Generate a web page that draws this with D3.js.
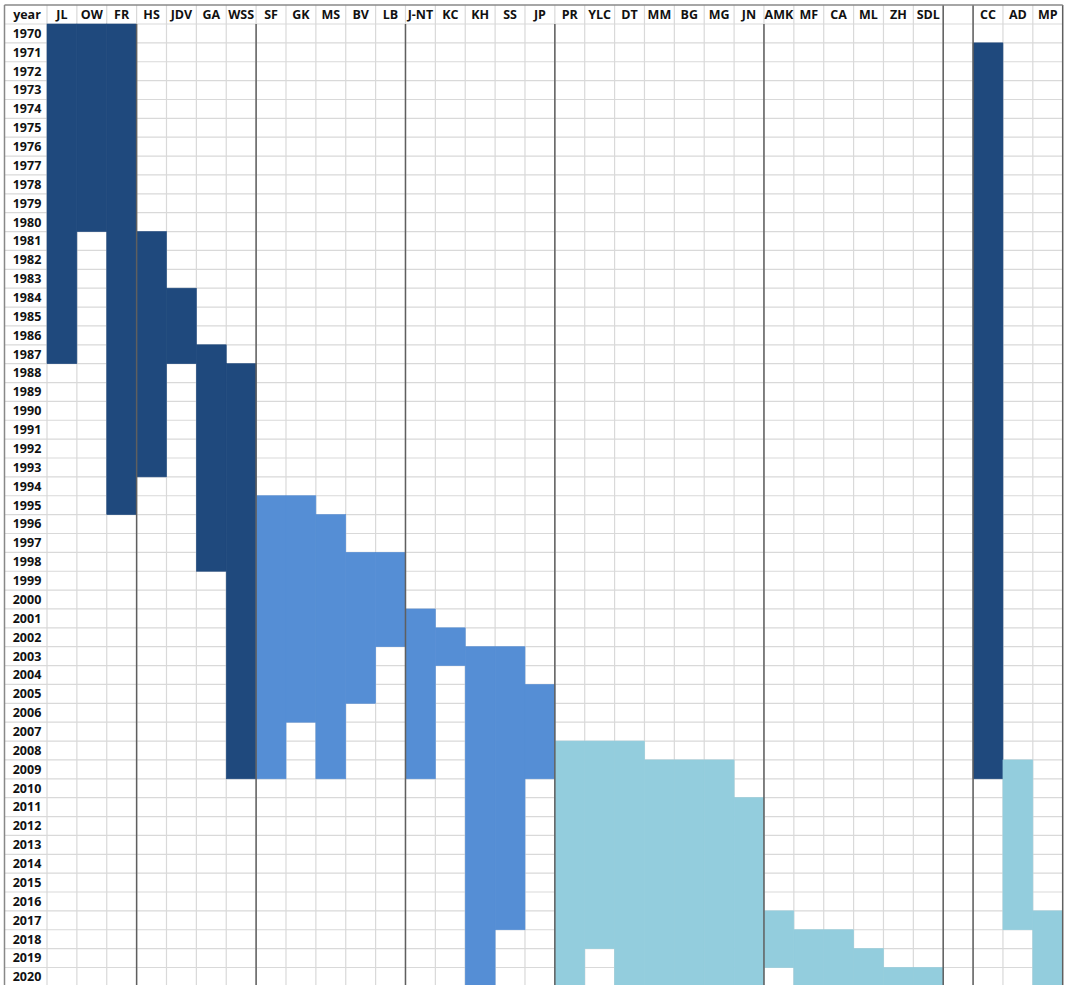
<!DOCTYPE html>
<html>
<head>
<meta charset="utf-8">
<script src="https://cdn.jsdelivr.net/npm/d3@7"></script>
<style>
  body { margin: 0; background: #fff; }
  text { font-family: "Open Sans", "Noto Sans", sans-serif; font-weight: 700; font-size: 12.5px; fill: #111; }
</style>
</head>
<body>
<div id="chart"></div>
<script>
const columns = ['JL', 'OW', 'FR', 'HS', 'JDV', 'GA', 'WSS', 'SF', 'GK', 'MS', 'BV', 'LB',
  'J-NT', 'KC', 'KH', 'SS', 'JP', 'PR', 'YLC', 'DT', 'MM', 'BG', 'MG', 'JN',
  'AMK', 'MF', 'CA', 'ML', 'ZH', 'SDL', '', 'CC', 'AD', 'MP'];
const years = d3.range(1970, 2021);

// [column, first year, last year]
const navySpans = [
  ['JL', 1970, 1987], ['OW', 1970, 1980], ['FR', 1970, 1995], ['HS', 1981, 1993],
  ['JDV', 1984, 1987], ['GA', 1987, 1998], ['WSS', 1988, 2009], ['CC', 1971, 2009]
];
const blueSpans = [
  ['SF', 1995, 2009], ['GK', 1995, 2006], ['MS', 1996, 2009], ['BV', 1998, 2005],
  ['LB', 1998, 2002], ['J-NT', 2001, 2009], ['KC', 2002, 2003], ['KH', 2003, 2020],
  ['SS', 2003, 2017], ['JP', 2005, 2009]
];
const aquaSpans = [
  ['PR', 2008, 2020], ['YLC', 2008, 2018], ['DT', 2008, 2020], ['MM', 2009, 2020],
  ['BG', 2009, 2020], ['MG', 2009, 2020], ['JN', 2011, 2020], ['AMK', 2017, 2019],
  ['MF', 2018, 2020], ['CA', 2018, 2020], ['ML', 2019, 2020], ['ZH', 2020, 2020],
  ['SDL', 2020, 2020], ['AD', 2009, 2017], ['MP', 2017, 2020]
];
// group separators: drawn on the right edge of these columns
const bodyBreaks = ['FR', 'WSS', 'LB', 'JP', 'JN'];
const fullBreaks = ['SDL', '', 'MP'];

const width = 1068;
const height = 985;
const tableLeft = 4.5;
const tableTop = 5;
const headerH = 19;
const rowH = 18.87;

const svg = d3.select('#chart')
  .append('svg')
  .attr('width', width)
  .attr('height', height);

const x = d3.scaleBand()
  .domain(columns)
  .range([47, 1062.7]);

const y = d3.scaleBand()
  .domain(years)
  .range([tableTop + headerH, tableTop + headerH + years.length * rowH]);

const bottom = y.range()[1];
const right = x.range()[1];

// light grid
const grid = svg.append('g')
  .attr('stroke', '#d9d9d9')
  .attr('stroke-width', 1.2);

grid.selectAll('line.h')
  .data([tableTop + headerH, ...years.map(d => y(d) + y.bandwidth())])
  .join('line')
    .attr('class', 'h')
    .attr('x1', tableLeft)
    .attr('x2', right)
    .attr('y1', d => d)
    .attr('y2', d => d);

grid.selectAll('line.v')
  .data(columns)
  .join('line')
    .attr('class', 'v')
    .attr('x1', d => x(d))
    .attr('x2', d => x(d))
    .attr('y1', tableTop)
    .attr('y2', bottom);

// filled spans
const drawSpans = (spans, color) => {
  svg.append('g')
    .selectAll('rect')
    .data(spans)
    .join('rect')
      .attr('x', d => x(d[0]))
      .attr('width', x.bandwidth())
      .attr('y', d => y(d[1]))
      .attr('height', d => y(d[2]) + y.bandwidth() - y(d[1]))
      .attr('fill', color)
      .attr('stroke', color)
      .attr('stroke-width', 0.6);
};

drawSpans(navySpans, '#1f497d');
drawSpans(blueSpans, '#558ed5');
drawSpans(aquaSpans, '#93cddd');

// borders and separators
const seps = svg.append('g')
  .attr('stroke', '#5f5f5f')
  .attr('stroke-width', 1.5);

seps.selectAll('line.body')
  .data(bodyBreaks)
  .join('line')
    .attr('class', 'body')
    .attr('x1', d => x(d) + x.bandwidth())
    .attr('x2', d => x(d) + x.bandwidth())
    .attr('y1', tableTop + headerH)
    .attr('y2', bottom);

seps.selectAll('line.full')
  .data(fullBreaks)
  .join('line')
    .attr('class', 'full')
    .attr('x1', d => x(d) + x.bandwidth())
    .attr('x2', d => x(d) + x.bandwidth())
    .attr('y1', tableTop)
    .attr('y2', bottom);

seps.append('line')
  .attr('x1', tableLeft).attr('x2', tableLeft)
  .attr('y1', tableTop).attr('y2', bottom)
  .attr('stroke', '#888');

seps.append('line')
  .attr('x1', tableLeft).attr('x2', right)
  .attr('y1', tableTop).attr('y2', tableTop)
  .attr('stroke', '#888');

// labels
svg.append('text')
  .attr('x', 27)
  .attr('y', tableTop + headerH / 2)
  .attr('dy', '0.35em')
  .attr('text-anchor', 'middle')
  .text('year');

svg.append('g')
  .selectAll('text')
  .data(columns)
  .join('text')
    .attr('x', d => x(d) + x.bandwidth() / 2)
    .attr('y', tableTop + headerH / 2)
    .attr('dy', '0.35em')
    .attr('text-anchor', 'middle')
    .text(d => d);

svg.append('g')
  .selectAll('text')
  .data(years)
  .join('text')
    .attr('x', 27)
    .attr('y', d => y(d) + y.bandwidth() / 2)
    .attr('dy', '0.35em')
    .attr('text-anchor', 'middle')
    .text(d => d);
</script>
</body>
</html>
